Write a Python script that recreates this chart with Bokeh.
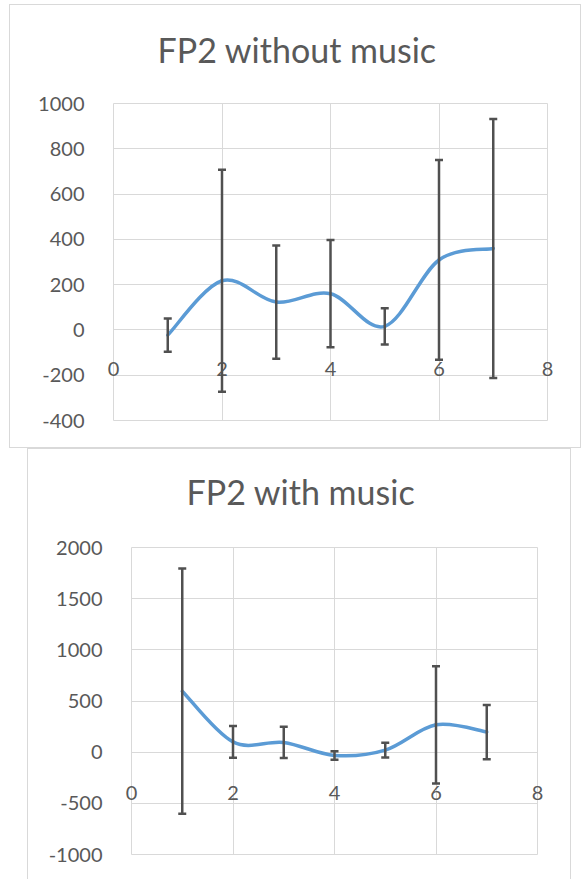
import numpy as np
from bokeh.plotting import figure
from bokeh.models import (FixedTicker, Whisker, TeeHead, ColumnDataSource,
                          Range1d, Title)
from bokeh.layouts import column
from bokeh.embed import file_html
from bokeh.resources import INLINE

# ---------------- data ----------------
x_vals = [1, 2, 3, 4, 5, 6, 7]

without_mean = [-23, 217, 123, 160, 16, 309, 360]
without_err = [73, 490, 250, 237, 80, 441, 572]

with_mean = [596, 100, 95, -32, 20, 267, 197]
with_err = [1199, 155, 153, 42, 73, 573, 265]

x_ticks = [0, 2, 4, 6, 8]
x_tick_labels = ["0", "2", "4", "6", "8"]

top_y_ticks = [-400, -200, 0, 200, 400, 600, 800, 1000]
top_y_labels = ["-400", "-200", "0", "200", "400", "600", "800", "1000"]

bot_y_ticks = [-1000, -500, 0, 500, 1000, 1500, 2000]
bot_y_labels = ["-1000", "-500", "0", "500", "1000", "1500", "2000"]

FONT = "Lato"
TXT = "#595959"
GRID = "#d9d9d9"
LINE = "#5b9bd5"
ERR = "#505050"


def bezier_params(xs, ys):
    x = np.asarray(xs, float)
    y = np.asarray(ys, float)
    px = np.concatenate([[x[0]], x, [x[-1]]])
    py = np.concatenate([[y[0]], y, [y[-1]]])
    n = len(x)
    cx0 = x[:-1] + (px[2:n + 1] - px[0:n - 1]) / 6.0
    cy0 = y[:-1] + (py[2:n + 1] - py[0:n - 1]) / 6.0
    cx1 = x[1:] - (px[3:n + 2] - px[1:n]) / 6.0
    cy1 = y[1:] - (py[3:n + 2] - py[1:n]) / 6.0
    return dict(x0=x[:-1], y0=y[:-1], x1=x[1:], y1=y[1:],
                cx0=cx0, cy0=cy0, cx1=cx1, cy1=cy1)


def make_chart(title, means, errs, yrange, yticks, ylabels,
               fw, fh, left, right, top, bottom, title_offset, margin,
               spacer, xlabel_standoff, styles):
    p = figure(frame_width=fw, frame_height=fh,
               min_border_left=left, min_border_right=right,
               min_border_top=top, min_border_bottom=bottom,
               x_range=Range1d(0, 8), y_range=Range1d(*yrange),
               output_backend="svg", toolbar_location=None,
               title=title)
    p.margin = margin
    p.styles = styles
    p.background_fill_color = "white"
    p.border_fill_color = "white"
    p.outline_line_color = GRID
    p.outline_line_width = 1

    p.title.align = "left"
    p.title.offset = title_offset
    p.title.text_font = FONT
    p.title.text_font_size = "34px"
    p.title.text_font_style = "normal"
    p.title.text_color = TXT
    p.title.standoff = 10

    # spacer between the title and the plot area
    p.add_layout(Title(text=" ", text_font_size="1px", standoff=spacer,
                       text_color="white"), "above")

    # x tick labels sit just below the y = 0 line (drawn up from the bottom axis)
    p.xaxis.ticker = FixedTicker(ticks=x_ticks)
    p.xaxis.major_label_overrides = {t: l for t, l in zip(x_ticks, x_tick_labels)}
    p.xaxis.axis_line_color = None
    p.xaxis.major_tick_line_color = None
    p.xaxis.minor_tick_line_color = None
    p.xaxis.major_label_standoff = xlabel_standoff
    p.xaxis.major_label_text_font = FONT
    p.xaxis.major_label_text_font_size = "20px"
    p.xaxis.major_label_text_color = TXT
    p.xgrid.ticker = FixedTicker(ticks=x_ticks)
    p.xgrid.grid_line_color = GRID
    p.xgrid.grid_line_width = 1

    p.yaxis.ticker = FixedTicker(ticks=yticks)
    p.yaxis.major_label_overrides = {t: l for t, l in zip(yticks, ylabels)}
    p.yaxis.axis_line_color = None
    p.yaxis.major_tick_line_color = None
    p.yaxis.minor_tick_line_color = None
    p.yaxis.major_label_standoff = 23
    p.yaxis.major_label_text_font = FONT
    p.yaxis.major_label_text_font_size = "20px"
    p.yaxis.major_label_text_color = TXT
    p.ygrid.ticker = FixedTicker(ticks=yticks)
    p.ygrid.grid_line_color = GRID
    p.ygrid.grid_line_width = 1

    b = bezier_params(x_vals, means)
    p.bezier(source=ColumnDataSource(b), x0="x0", y0="y0", x1="x1", y1="y1",
             cx0="cx0", cy0="cy0", cx1="cx1", cy1="cy1",
             line_color=LINE, line_width=3.5, line_cap="round")

    es = ColumnDataSource(dict(
        x=x_vals,
        upper=[m + e for m, e in zip(means, errs)],
        lower=[m - e for m, e in zip(means, errs)]))
    w = Whisker(source=es, base="x", upper="upper", lower="lower",
                line_color=ERR, line_width=2.5,
                upper_head=TeeHead(size=8, line_color=ERR, line_width=2.5),
                lower_head=TeeHead(size=8, line_color=ERR, line_width=2.5))
    w.level = "annotation"
    p.add_layout(w)
    return p


p1 = make_chart("FP2 without music", without_mean, without_err, (-400, 1000),
                top_y_ticks, top_y_labels,
                fw=432, fh=315, left=103, right=35, top=98, bottom=29,
                title_offset=44, margin=(4, 0, 0, 9), spacer=26,
                xlabel_standoff=-65,
                styles={"border": "1px solid #d9d9d9"})

p2 = make_chart("FP2 with music", with_mean, with_err, (-1000, 2000),
                bot_y_ticks, bot_y_labels,
                fw=404, fh=306, left=103, right=35, top=98, bottom=26,
                title_offset=55, margin=(0, 0, 0, 27), spacer=28,
                xlabel_standoff=-75,
                styles={"border-top": "1px solid #d9d9d9",
                        "border-left": "1px solid #d9d9d9",
                        "border-right": "1px solid #d9d9d9"})

layout = column(p1, p2, spacing=0)
open("out.html", "w").write(file_html(layout, INLINE))
